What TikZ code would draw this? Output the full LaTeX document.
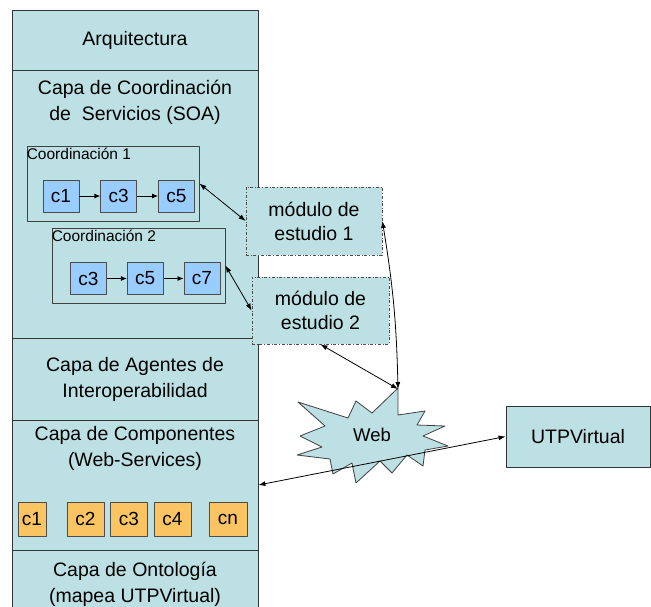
\documentclass[tikz,border=0pt]{standalone}
\usepackage{fontspec}
\setmainfont{Liberation Sans}
\usetikzlibrary{arrows.meta,positioning}

\definecolor{layerfill}{RGB}{188,224,227}
\definecolor{svcblue}{RGB}{153,204,255}
\definecolor{compgold}{RGB}{250,196,98}

\begin{document}
\begin{tikzpicture}[x=1pt,y=-1pt,line join=round,
  layer/.style={draw=black!80,fill=layerfill,line width=0.8pt,minimum width=246pt,inner sep=0pt},
  big/.style={font=\fontsize{19.5}{26}\selectfont,align=center},
  grp/.style={draw=black!75,line width=0.8pt,minimum width=172pt,minimum height=75pt},
  grplbl/.style={anchor=north west,inner xsep=0pt,inner ysep=2pt,font=\fontsize{15.5}{15.5}\selectfont},
  svc/.style={draw=black!70,fill=svcblue,line width=0.7pt,minimum width=36pt,minimum height=32pt,inner sep=0pt,font=\fontsize{19}{19}\selectfont},
  comp/.style={draw=black!70,fill=compgold,line width=0.7pt,minimum width=37pt,minimum height=34pt,inner sep=0pt,font=\fontsize{19}{19}\selectfont},
  modbox/.style={draw=black!70,dash dot,fill=layerfill,line width=0.7pt,minimum width=136pt,minimum height=68pt,font=\fontsize{19.5}{24}\selectfont,align=center},
  tip/.style={{Latex[length=7pt,width=5pt]}-{Latex[length=7pt,width=5pt]},line width=0.8pt},
  fwd/.style={-{Latex[length=6pt,width=5pt]},line width=0.8pt}]
\useasboundingbox (0,0) rectangle (651,606);
\clip (0,0) rectangle (651,606);
% layer stack
\node[layer,big,minimum height=60pt] (arq) at (135,40) {Arquitectura};
\node[layer,minimum height=268pt] (coord) at (135,204) {};
\node[big] (coordtxt) at (135,102) {Capa de Coordinación\\de \ Servicios (SOA)};
\node[layer,big,minimum height=82pt] (agent) at (135,379) {Capa de Agentes de\\Interoperabilidad};
\node[layer,minimum height=130pt] (comp) at (135,485) {};
\node[big] (comptxt) at (135,448) {Capa de Componentes\\(Web-Services)};
\node[layer,big,minimum height=68pt] (onto) at (135,584) {Capa de Ontología\\(mapea UTPVirtual)};
% coordinations
\node[grp] (grp1) at (113,183.5) {};
\node[grplbl] (grp1lbl) at (grp1.north west) {Coordinación 1};
\node[svc] (a1) at (61,196) {c1};
\node[svc,right=21pt of a1] (a3) {c3};
\node[svc,right=21pt of a3] (a5) {c5};
\draw[fwd] (a1) -- (a3);
\draw[fwd] (a3) -- (a5);
\node[grp,minimum width=173pt] (grp2) at (138.5,265.5) {};
\node[grplbl] (grp2lbl) at (grp2.north west) {Coordinación 2};
\node[svc] (b3) at (88.5,278.5) {c3};
\node[svc,right=20pt of b3] (b5) {c5};
\node[svc,right=20pt of b5] (b7) {c7};
\draw[fwd] (b3) -- (b5);
\draw[fwd] (b5) -- (b7);
% web services
\node[comp,minimum width=28pt] (k1) at (32,519) {c1};
\node[comp] (k2) at (85.5,519) {c2};
\node[comp] (k3) at (129,519) {c3};
\node[comp] (k4) at (172.5,519) {c4};
\node[comp,minimum width=38pt] (kn) at (228,519) {cn};
% study modules
\node[modbox] (mod1) at (314,221) {módulo de\\estudio 1};
\node[modbox,minimum width=137pt,minimum height=67pt] (mod2) at (320.5,310.5) {módulo de\\estudio 2};
% web burst
\draw[draw=black!75,fill=layerfill,line width=0.8pt] (398,388) -- (398,415) -- (425,411) -- (417,425)
  -- (445,426) -- (423,436) -- (448,446) -- (425,450) -- (423,466) -- (407,455)
  -- (392,473) -- (380,461) -- (356,483) -- (352,463) -- (333,474) -- (330,459)
  -- (297,455) -- (322,447) -- (300,436) -- (325,426) -- (298,402) -- (348,418)
  -- (356,401) -- (372,413) -- cycle;
\coordinate (webtip) at (398,389);
\node[font=\fontsize{18.5}{18.5}\selectfont] (web) at (372,435) {Web};
\node[draw=black!80,fill=layerfill,line width=0.8pt,minimum width=144pt,minimum height=61pt,big] (utp) at (578,436.5) {UTPVirtual};
% links
\draw[tip] (grp1.east) -- (mod1.west);
\draw[tip] (grp2.east) -- (mod2.west);
\draw[tip] (mod1.east) to[bend left=4] (webtip);
\draw[tip] (mod2.south) -- (webtip);
\draw[tip] (comp.east) -- (utp.west);
\end{tikzpicture}
\end{document}
